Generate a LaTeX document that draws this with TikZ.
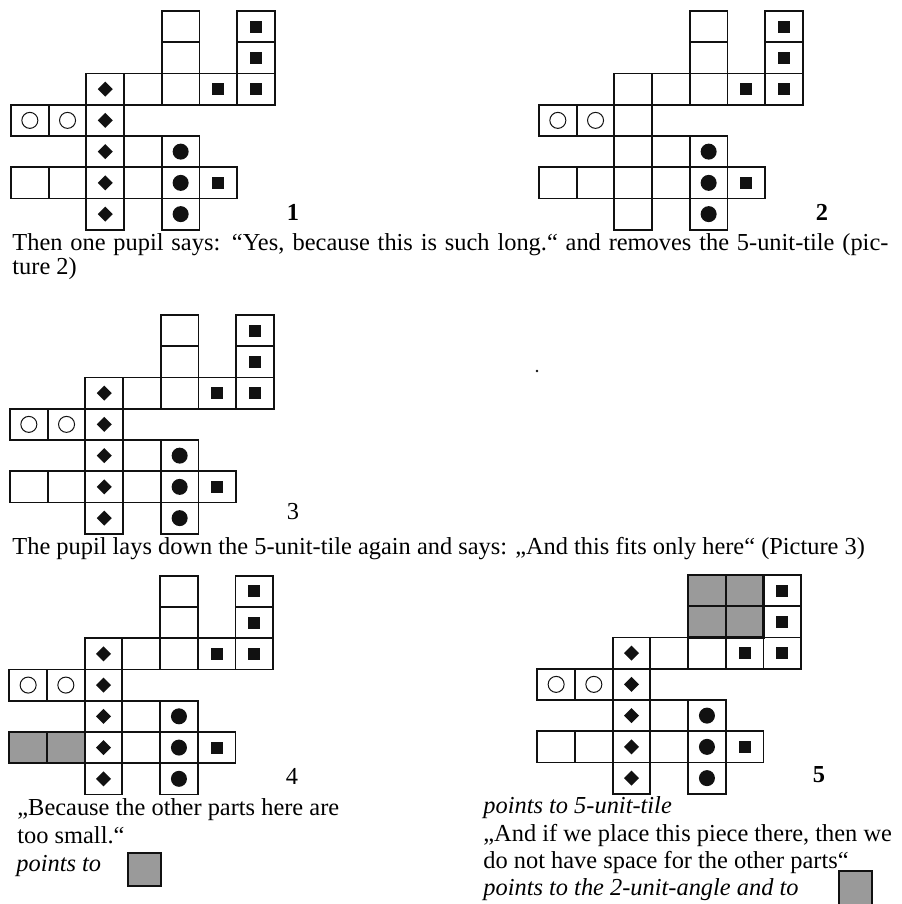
\documentclass[tikz,border=0pt]{standalone}
\usepackage{fontspec}
\setmainfont{Liberation Serif}
\usepackage{xcolor}
\usepackage{tikz}
\definecolor{TileInk}{HTML}{111111}
\definecolor{TileGrey}{HTML}{9A9A9A}
\newcommand{\bodyfont}{\fontsize{12.2}{14}\selectfont}
\newcommand{\tileboard}[3]{%
  \begin{scope}[shift={(#1,#2)},x=18.85pt,y=-15.625pt]
    \foreach \cx/\ry in {4/0,6/0,4/1,6/1,2/2,3/2,4/2,5/2,6/2,0/3,1/3,2/3,2/4,3/4,4/4,0/5,1/5,2/5,3/5,4/5,5/5,2/6,4/6}
      \draw[cell] (\cx,\ry) rectangle ++(1,1);
    \foreach \cx/\ry in {6/0,6/1,5/2,6/2,5/5}
      \fill[TileInk] (\cx+0.5,\ry+0.5) ++(-3pt,-3pt) rectangle ++(6pt,6pt);
    \foreach \cx in {0,1}
      \draw[TileInk,line width=0.5pt] (\cx+0.5,3.5) circle (4pt);
    \foreach \ry in {4,5,6}
      \fill[TileInk] (4.5,\ry+0.5) circle (4pt);
    #3
  \end{scope}}
\newcommand{\diamondmarks}{%
  \foreach \ry in {2,...,6}
    \fill[TileInk] (2.5,\ry+0.5) ++(0,3.75pt) -- ++(3.75pt,-3.75pt) -- ++(-3.75pt,-3.75pt) -- ++(-3.75pt,3.75pt) -- cycle;}

\begin{document}
\begin{tikzpicture}[
    x=0.5pt, y=-0.5pt,
    cell/.style={
      draw=TileInk,
      fill=white,
      line width=0.95pt
    },
    greytile/.style={
      draw=TileInk,
      fill=TileGrey,
      line width=1.05pt
    },
    prose/.style={
      anchor=base west,
      inner sep=0pt,
      font=\bodyfont
    },
    remark/.style={
      prose,
      font=\bodyfont\itshape
    },
    picnum/.style={
      inner sep=0pt,
      font=\bodyfont
    }
  ]
    \useasboundingbox (0,0) rectangle (901,904);

    \tileboard{11}{11}{\diamondmarks}
    \tileboard{539}{11}{}
    \tileboard{10}{315}{\diamondmarks}
    \tileboard{9.3}{575.7}{\diamondmarks
      \foreach \cx in {0,1} \draw[greytile] (\cx,5) rectangle ++(1,1);}
    \tileboard{537.3}{575}{\diamondmarks
      \foreach \cx/\ry in {4/0,5/0,4/1,5/1} \draw[greytile] (\cx,\ry) rectangle ++(1,1);
      \foreach \cx/\ry in {6/0,6/1} \fill[TileInk] (\cx+0.5,\ry+0.5) ++(-3pt,-3pt) rectangle ++(6pt,6pt);}

    \node[picnum,font=\bodyfont\bfseries] (num1) at (293,212) {1};
    \node[picnum,font=\bodyfont\bfseries] (num2) at (822,212) {2};
    \node[picnum] (num3) at (293,512) {3};
    \node[picnum] (num4) at (292,776) {4};
    \node[picnum,font=\bodyfont\bfseries] (num5) at (819,775) {5};

    \node[prose] (say1) at (12,250) {\makebox[438pt][s]{Then one pupil says: “Yes, because this is such long.“ and removes the 5-unit-tile (pic-}};
    \node[prose] (say2) at (12,274.5) {ture 2)};
    \node[prose] (lay) at (12,554) {The pupil lays down the 5-unit-tile again and says: „And this fits only here“ (Picture 3)};

    \node[prose] (because1) at (17,815) {„Because the other parts here are};
    \node[prose] (because2) at (17,843) {too small.“};
    \node[remark] (point4) at (16,871.5) {points to};
    \draw[greytile] (128,853) rectangle (161,886);

    \node[remark] (point5) at (483,813) {points to 5-unit-tile};
    \node[prose] (place1) at (483,841) {„And if we place this piece there, then we};
    \node[prose] (place2) at (483,868) {do not have space for the other parts“};
    \node[remark] (angle) at (483,895) {points to the 2-unit-angle and to};
    \draw[greytile] (839,871) rectangle (872,905);

    \fill[TileInk] (537,371) circle (0.7pt);
  \end{tikzpicture}
\end{document}
